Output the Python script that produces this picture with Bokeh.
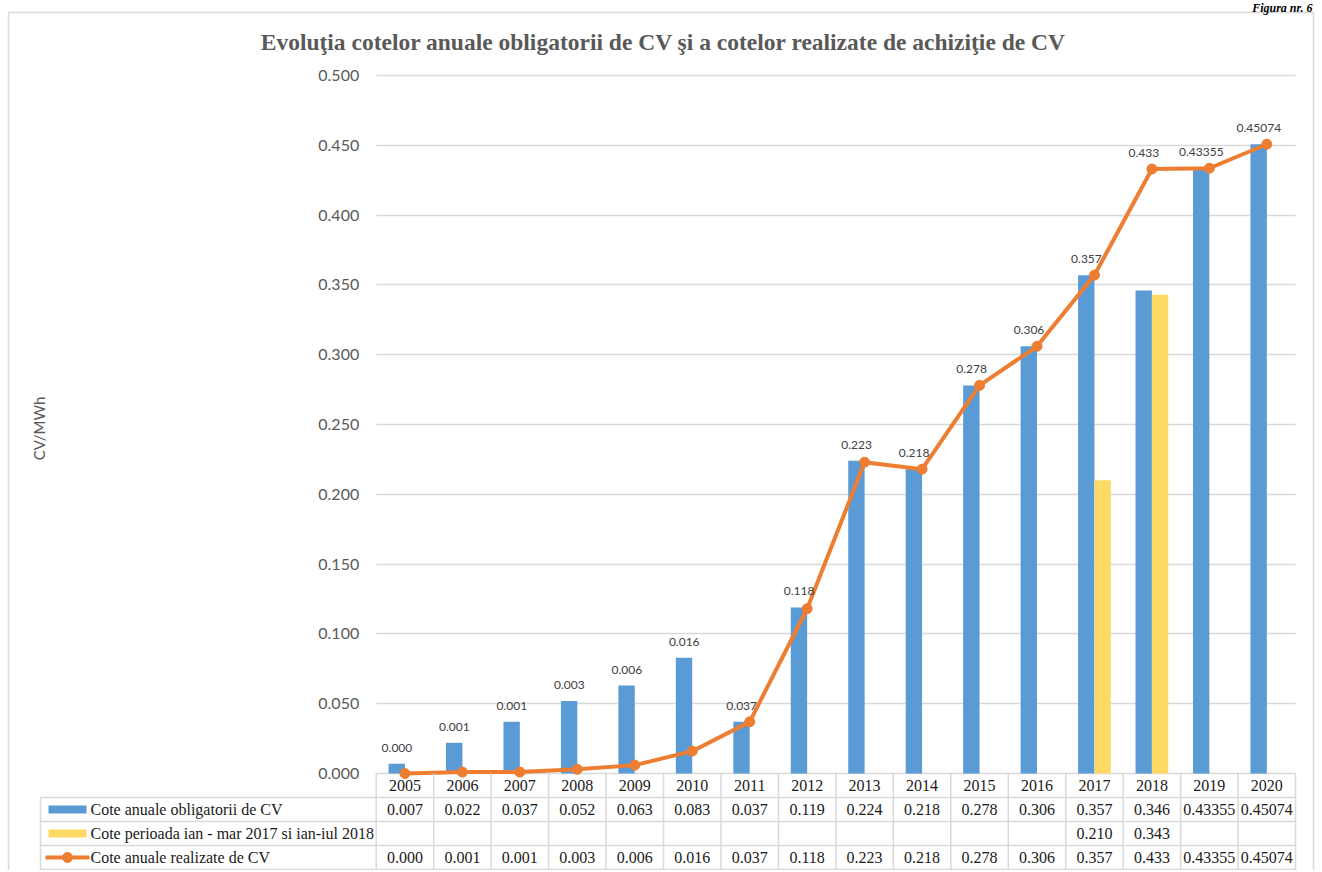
import math
import numpy as np
from bokeh.plotting import figure
from bokeh.models import Range1d, Grid, FixedTicker
from bokeh.core.properties import value
from bokeh.embed import file_html
from bokeh.resources import INLINE

# ---------------- data ----------------
years = ["2005", "2006", "2007", "2008", "2009", "2010", "2011", "2012",
         "2013", "2014", "2015", "2016", "2017", "2018", "2019", "2020"]
cote_obligatorii = [0.007, 0.022, 0.037, 0.052, 0.063, 0.083, 0.037, 0.119,
                    0.224, 0.218, 0.278, 0.306, 0.357, 0.346, 0.43355, 0.45074]
cote_perioada = [None, None, None, None, None, None, None, None,
                 None, None, None, None, 0.210, 0.343, None, None]
cote_realizate = [0.000, 0.001, 0.001, 0.003, 0.006, 0.016, 0.037, 0.118,
                  0.223, 0.218, 0.278, 0.306, 0.357, 0.433, 0.43355, 0.45074]
y_ticks = [0.000, 0.050, 0.100, 0.150, 0.200, 0.250, 0.300, 0.350, 0.400, 0.450, 0.500]
series_names = ["Cote anuale obligatorii de CV",
                "Cote perioada ian - mar 2017 si ian-iul 2018",
                "Cote anuale realizate de CV"]
title_text = "Evoluţia cotelor anuale obligatorii de CV şi a cotelor realizate de achiziţie de CV"
y_label = "CV/MWh"
figure_caption = "Figura nr. 6"

# ---------------- colours / fonts ----------------
BLUE, YELLOW, ORANGE = "#5B9BD5", "#FFD966", "#ED7D31"
GRID = "#D9D9D9"
SERIF = value("Liberation Serif")
SANS = value("Lato")

# ---------------- layout helpers (canvas pixels -> data) ----------------
W, H = 1318, 870
X0_PX, UX = 375.7, 57.46      # canvas x of category-axis origin, px per category
Y0_PX, UY = 773.0, 1396.0     # canvas y of value 0, px per unit value


def xd(px):
    return (px - X0_PX) / UX


def yd(py):
    return (Y0_PX - py) / UY


def fmt(v):
    if v is None:
        return ""
    return f"{v:.3f}" if abs(round(v, 3) - v) < 1e-12 else f"{v}"


n = len(years)
idx = np.arange(n) + 0.5
obl = np.array(cote_obligatorii, dtype=float)
per = np.array([np.nan if v is None else v for v in cote_perioada], dtype=float)
rea = np.array(cote_realizate, dtype=float)

p = figure(width=W, height=H, output_backend="svg", toolbar_location=None,
           x_range=Range1d(xd(0), xd(W)), y_range=Range1d(yd(H), yd(0)),
           x_axis_location=None, y_axis_location=None, min_border=0,
           outline_line_color=None,
           background_fill_color="white", border_fill_color="white")
p.xgrid.visible = False
p.ygrid.visible = False

# chart-area border
p.quad(left=[xd(8)], right=[xd(1313)], top=[yd(12)], bottom=[yd(H + 20)],
       fill_color=None, line_color=GRID, line_width=1.5)

# caption above the chart area, top right
p.text(x=[xd(1312)], y=[yd(0.5)], text=[figure_caption], text_align="right",
       text_baseline="top", text_font=SERIF, text_font_style="bold italic",
       text_font_size="12px", text_color="black")

grid = Grid(dimension=1, ticker=FixedTicker(ticks=y_ticks), bounds=(0, 0.5),
            cross_bounds=(0, n), grid_line_color=GRID, grid_line_width=1.5)
p.center.append(grid)

# bars
BW = 0.285
p.vbar(x=idx - BW / 2, top=obl, bottom=0, width=BW, fill_color=BLUE, line_color=None)
p.vbar(x=idx + BW / 2, top=per, bottom=0, width=BW, fill_color=YELLOW, line_color=None)

# line
p.line(idx, rea, line_width=4, line_color=ORANGE, line_join="round")
p.scatter(idx, rea, size=10, fill_color=ORANGE, line_color=ORANGE)

# data labels of realised quotas
p.text(x=idx, y=np.maximum(obl, rea), text=[fmt(v) for v in cote_realizate],
       x_offset=-8, y_offset=-16, text_align="center", text_baseline="middle",
       text_font=SANS, text_font_size="12px", text_color="#404040")

# y tick labels
p.text(x=[0] * len(y_ticks), y=y_ticks, text=[f"{t:.3f}" for t in y_ticks],
       x_offset=-17, text_align="right", text_baseline="middle",
       text_font=SANS, text_font_size="16px", text_color="#595959")

# y axis label
p.text(x=[xd(38)], y=[yd(428)], text=[y_label], angle=math.pi / 2,
       text_align="center", text_baseline="middle",
       text_font=SANS, text_font_size="15px", text_color="#595959")

# title
p.text(x=[xd(663)], y=[yd(41)], text=[title_text], text_align="center",
       text_baseline="middle", text_font=SERIF, text_font_style="bold",
       text_font_size="23.5px", text_color="#595959")

# ---------------- data table ----------------
ROW_H = 24
row_top = [Y0_PX + i * ROW_H for i in range(5)]          # canvas y of row borders
LEFT_PX = 40

hx0, hx1, hy = [], [], []
for i in range(1, 5):
    hx0.append(xd(LEFT_PX)); hx1.append(n); hy.append(yd(row_top[i]))
p.segment(x0=hx0, y0=hy, x1=hx1, y1=hy, line_color=GRID, line_width=1.5)
vx = list(range(n + 1))
p.segment(x0=vx, y0=[yd(row_top[0])] * len(vx), x1=vx, y1=[yd(row_top[4])] * len(vx),
          line_color=GRID, line_width=1.5)
p.segment(x0=[xd(LEFT_PX)], y0=[yd(row_top[1])], x1=[xd(LEFT_PX)], y1=[yd(row_top[4])],
          line_color=GRID, line_width=1.5)

row_c = [yd(row_top[i] + ROW_H / 2) for i in range(4)]
table_font = dict(text_font=SERIF, text_font_size="16px", text_color="#1a1a1a",
                  text_align="center", text_baseline="middle")
p.text(x=idx, y=[row_c[0]] * n, text=years, **table_font)
p.text(x=idx, y=[row_c[1]] * n, text=[fmt(v) for v in cote_obligatorii], **table_font)
p.text(x=idx, y=[row_c[2]] * n, text=[fmt(v) for v in cote_perioada], **table_font)
p.text(x=idx, y=[row_c[3]] * n, text=[fmt(v) for v in cote_realizate], **table_font)

# legend keys inside the table
for r, col in ((1, BLUE), (2, YELLOW)):
    cy = row_top[r] + ROW_H / 2
    p.quad(left=[xd(48)], right=[xd(86)], top=[yd(cy - 4)], bottom=[yd(cy + 4)],
           fill_color=col, line_color=None)
cy3 = row_top[3] + ROW_H / 2
p.line([xd(45), xd(89)], [yd(cy3), yd(cy3)], line_width=4, line_color=ORANGE)
p.scatter([xd(67)], [yd(cy3)], size=10, fill_color=ORANGE, line_color=ORANGE)
p.text(x=[xd(90)] * 3, y=row_c[1:], text=series_names, text_font=SERIF,
       text_font_size="16px", text_color="#1a1a1a", text_align="left",
       text_baseline="middle")

open("out.html", "w").write(file_html(p, INLINE, "chart"))
